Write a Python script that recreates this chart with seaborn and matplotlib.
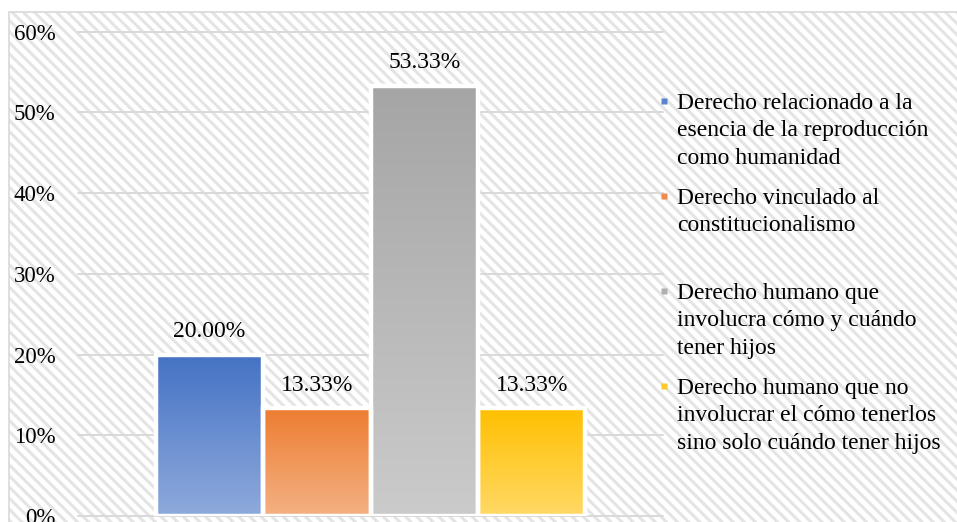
import numpy as np
import pandas as pd
import matplotlib
matplotlib.use("Agg")
import matplotlib.pyplot as plt
import seaborn as sns
from matplotlib.patches import Rectangle
from matplotlib.lines import Line2D
from matplotlib.colors import to_rgb
from matplotlib.ticker import PercentFormatter

# ---- data ----
series = [
    "Derecho relacionado a la\nesencia de la reproducción\ncomo humanidad",
    "Derecho vinculado al\nconstitucionalismo",
    "Derecho humano que\ninvolucra cómo y cuándo\ntener hijos",
    "Derecho humano que no\ninvolucrar el cómo tenerlos\nsino solo cuándo tener hijos",
]
values = [20.00, 13.33, 53.33, 13.33]
value_labels = ["20.00%", "13.33%", "53.33%", "13.33%"]
y_ticks = [0, 10, 20, 30, 40, 50, 60]

# ---- style ----
top_colors = ["#4472C4", "#ED7D31", "#A5A5A5", "#FFC000"]
bottom_colors = ["#8FAADC", "#F4B183", "#CBCBCB", "#FFD966"]
marker_colors = ["#5B82CC", "#EF8C4D", "#AFAFAF", "#FFC92A"]

sns.set_theme(style="white")
plt.rcParams["font.family"] = ["Liberation Serif", "DejaVu Serif"]
plt.rcParams["hatch.linewidth"] = 2.2

W, H = 957, 522
fig = plt.figure(figsize=(W / 100, H / 100), dpi=100)
fig.patch.set_facecolor("white")

# chart area: hatched background with a light border
bx0, by1 = 9 / W, 1 - 11.5 / H
bg = Rectangle((bx0, -0.05), 1.1, by1 + 0.05, transform=fig.transFigure,
               facecolor="white", edgecolor="#e4e4e4", hatch="\\\\\\",
               linewidth=0, zorder=-10)
fig.patches.append(bg)
border = Rectangle((bx0, -0.05), 1.1, by1 + 0.05, transform=fig.transFigure,
                   fill=False, edgecolor="#d9d9d9", linewidth=1.2, zorder=-9)
fig.patches.append(border)

ax = fig.add_axes([78 / W, 1 - 516 / H, (663 - 78) / W, (516 - 31.7) / H])
ax.set_facecolor("none")

df = pd.DataFrame({"grupo": [""] * len(series), "serie": series, "valor": values})
sns.barplot(data=df, x="grupo", y="valor", hue="serie", hue_order=series,
            palette=top_colors, width=0.735, dodge=True, legend=False,
            errorbar=None, edgecolor="white", linewidth=3.2, ax=ax, zorder=3)

grad = np.linspace(0, 1, 256)[:, None, None]
for cont, ctop, cbot, lbl in zip(ax.containers, top_colors, bottom_colors, value_labels):
    for bar in cont.patches:
        x0, y0 = bar.get_x(), bar.get_y()
        w, h = bar.get_width(), bar.get_height()
        rgb = (1 - grad) * np.array(to_rgb(ctop)) + grad * np.array(to_rgb(cbot))
        im = ax.imshow(rgb, extent=(x0, x0 + w, y0, y0 + h), origin="upper",
                       aspect="auto", interpolation="bilinear", zorder=2)
        im.set_clip_path(bar)
        bar.set_facecolor("none")
    ax.bar_label(cont, labels=[lbl], padding=9, fontsize=17, color="black")

ax.set_xlim(-0.5, 0.5)
ax.set_ylim(0, 60)
ax.set_yticks(y_ticks)
ax.yaxis.set_major_formatter(PercentFormatter(decimals=0))
ax.set_xticks([])
ax.set_xlabel("")
ax.set_ylabel("")
ax.tick_params(axis="y", length=0, pad=16, labelsize=16.5, labelcolor="black")
ax.yaxis.grid(True, color="#d9d9d9", linewidth=1.4)
ax.xaxis.grid(False)
ax.set_axisbelow(True)
for gl in ax.get_ygridlines():
    gl.set_clip_on(False)
for s in ax.spines.values():
    s.set_visible(False)

handles = [Line2D([], [], marker="s", linestyle="none", markersize=5,
                  markerfacecolor=c, markeredgecolor="none") for c in marker_colors]
leg = ax.legend(handles, series, loc="upper left",
                bbox_to_anchor=(660 / W, 1 - 93 / H), bbox_transform=fig.transFigure,
                frameon=False, fontsize=17, handlelength=0.3, handletextpad=0.42,
                labelspacing=0.73, borderpad=0, borderaxespad=0)
for t in leg.get_texts():
    t.set_linespacing(1.4)
    t.set_color("black")
for col in leg._legend_handle_box.get_children():
    for item in col.get_children():
        item.align = "top"
        da = item.get_children()[0]
        extra = 56 - da.height
        if extra > 0:
            da.height += extra
            da.ydescent += extra

fig.savefig("out.png", dpi=100)
